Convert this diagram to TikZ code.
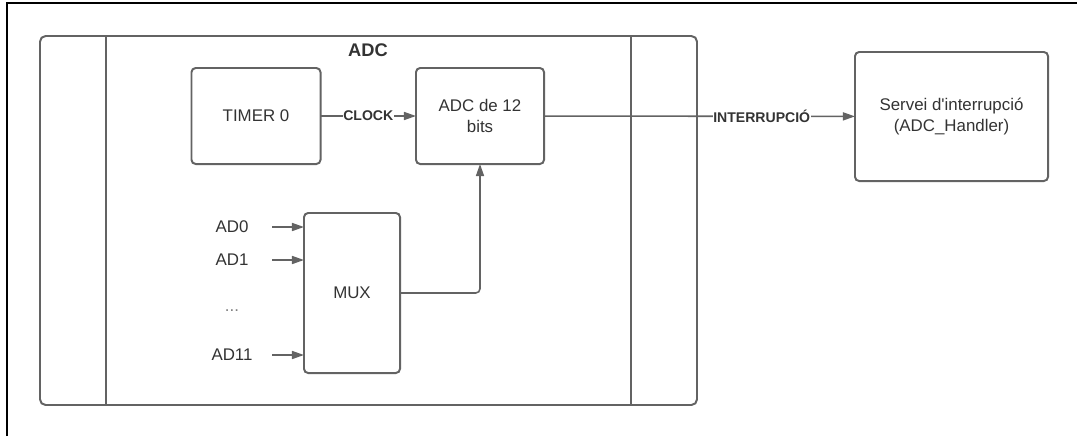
\documentclass[tikz,border=0pt]{standalone}
\usepackage{fontspec}
\setmainfont{Liberation Sans}
\usetikzlibrary{arrows.meta}
\definecolor{linegray}{HTML}{636363}
\definecolor{textgray}{HTML}{333333}

\begin{document}
\begin{tikzpicture}[x=0.025cm, y=-0.025cm,
    block/.style={draw=linegray, line width=1.4pt, rounded corners=3pt, align=center,
        font=\fontsize{12}{15}\selectfont, text=textgray, inner sep=0pt, outer sep=0pt},
    inlabel/.style={font=\fontsize{12}{14}\selectfont, text=textgray, minimum width=2cm, inner sep=0pt},
    wire/.style={draw=linegray, line width=1.1pt, -{Triangle[length=0.3cm, width=0.2cm]}},
    tag/.style={fill=white, font=\bfseries\fontsize{10}{12}\selectfont, text=textgray, inner sep=0.5pt}]
        \useasboundingbox (0,0) rectangle (1077,436);

        % Outer frame (top and left only)
        \draw[black, line width=1.2pt] (7,436) -- (7,3) -- (1077,3);

        % ADC container with its two side columns
        \draw[linegray, line width=1.4pt, rounded corners=4pt] (40,36) rectangle (697,405);
        \draw[linegray, line width=1.4pt] (106,36) -- (106,405);
        \draw[linegray, line width=1.4pt] (631,36) -- (631,405);
        \node[font=\bfseries\fontsize{13}{15}\selectfont, text=textgray] (adctitle) at (368,50) {ADC};

        % Blocks
        \node[block, minimum width=3.225cm, minimum height=2.4cm] (timer) at (256,116) {TIMER 0};
        \node[block, minimum width=3.2cm, minimum height=2.4cm] (conv) at (480,116) {ADC de 12\\bits};
        \node[block, minimum width=4.825cm, minimum height=3.225cm] (isr) at (951.5,116.5) {Servei d\textquotesingle interrupció\\(ADC\_Handler)};
        \node[block, minimum width=2.4cm, minimum height=4cm] (mux) at (352,293) {MUX};

        % Analog inputs
        \node[inlabel] (ad0) at (232,227) {AD0};
        \node[inlabel] (ad1) at (232,260) {AD1};
        \node[inlabel, text=gray] (dots) at (232,311) {...};
        \node[inlabel] (ad11) at (232,355) {AD11};
        \draw[wire] (ad0) -- (ad0 -| mux.west);
        \draw[wire] (ad1) -- (ad1 -| mux.west);
        \draw[wire] (ad11) -- (ad11 -| mux.west);

        % Signals
        \draw[wire] (timer) -- node[tag] {CLOCK} (conv);
        \draw[wire, rounded corners=3pt] (mux.east) -| (conv.south);
        \draw[wire] (conv) -- node[tag, pos=0.7] {INTERRUPCIÓ} (isr);
      \end{tikzpicture}
\end{document}
